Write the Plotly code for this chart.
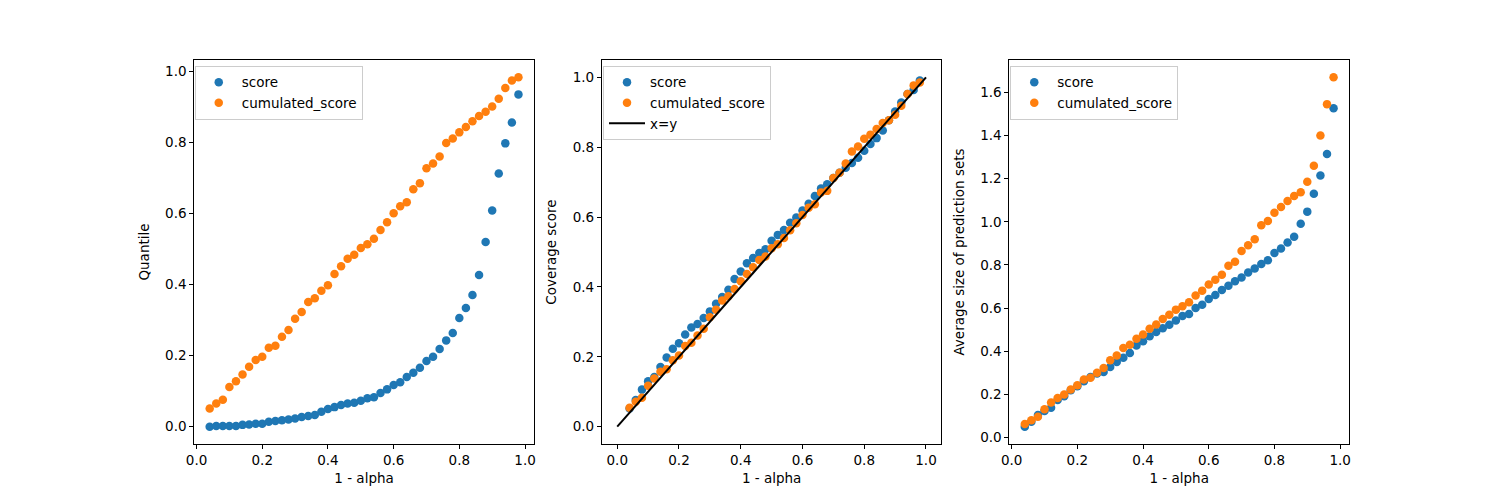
import plotly.graph_objects as go

alpha_levels = [round(0.04 + 0.02 * i, 2) for i in range(48)]

quantile_score = [0.000, 0.002, 0.002, 0.002, 0.002, 0.005, 0.006, 0.008, 0.008, 0.014,
                  0.016, 0.018, 0.020, 0.023, 0.027, 0.030, 0.033, 0.042, 0.050, 0.055,
                  0.061, 0.065, 0.067, 0.073, 0.080, 0.083, 0.095, 0.105, 0.117, 0.125,
                  0.140, 0.152, 0.166, 0.185, 0.197, 0.219, 0.243, 0.264, 0.306, 0.334,
                  0.371, 0.427, 0.520, 0.609, 0.713, 0.798, 0.857, 0.936]
quantile_cumulated = [0.051, 0.065, 0.076, 0.112, 0.128, 0.147, 0.169, 0.188, 0.197, 0.222,
                      0.228, 0.253, 0.272, 0.304, 0.323, 0.351, 0.362, 0.383, 0.398, 0.430,
                      0.452, 0.473, 0.484, 0.503, 0.514, 0.529, 0.554, 0.576, 0.601, 0.621,
                      0.632, 0.669, 0.686, 0.728, 0.741, 0.761, 0.799, 0.812, 0.829, 0.844,
                      0.860, 0.875, 0.887, 0.902, 0.924, 0.954, 0.975, 0.984]

coverage_score = [0.052, 0.076, 0.106, 0.130, 0.142, 0.171, 0.198, 0.223, 0.239, 0.264,
                  0.284, 0.294, 0.311, 0.330, 0.352, 0.371, 0.392, 0.423, 0.444, 0.468,
                  0.483, 0.497, 0.508, 0.532, 0.549, 0.563, 0.584, 0.599, 0.619, 0.638,
                  0.660, 0.682, 0.694, 0.712, 0.727, 0.741, 0.755, 0.770, 0.790, 0.809,
                  0.826, 0.848, 0.877, 0.902, 0.928, 0.952, 0.964, 0.991]
coverage_cumulated = [0.054, 0.071, 0.083, 0.117, 0.138, 0.157, 0.164, 0.190, 0.204, 0.231,
                      0.240, 0.261, 0.280, 0.313, 0.335, 0.361, 0.373, 0.394, 0.416, 0.437,
                      0.456, 0.477, 0.487, 0.511, 0.522, 0.540, 0.562, 0.582, 0.606, 0.627,
                      0.637, 0.670, 0.675, 0.712, 0.727, 0.753, 0.788, 0.802, 0.824, 0.836,
                      0.852, 0.869, 0.877, 0.893, 0.919, 0.952, 0.977, 0.985]

size_score = [0.051, 0.074, 0.105, 0.123, 0.138, 0.174, 0.192, 0.220, 0.238, 0.261,
              0.281, 0.297, 0.304, 0.327, 0.350, 0.370, 0.392, 0.427, 0.446, 0.470,
              0.489, 0.507, 0.523, 0.543, 0.563, 0.573, 0.601, 0.616, 0.642, 0.661,
              0.684, 0.704, 0.724, 0.742, 0.765, 0.784, 0.804, 0.822, 0.855, 0.876,
              0.904, 0.931, 0.991, 1.047, 1.130, 1.214, 1.314, 1.526]
size_cumulated = [0.063, 0.081, 0.097, 0.132, 0.163, 0.184, 0.200, 0.223, 0.243, 0.269,
                  0.277, 0.301, 0.323, 0.358, 0.381, 0.415, 0.430, 0.458, 0.478, 0.504,
                  0.524, 0.550, 0.569, 0.593, 0.609, 0.627, 0.658, 0.681, 0.709, 0.732,
                  0.755, 0.796, 0.815, 0.865, 0.891, 0.919, 0.984, 1.004, 1.042, 1.068,
                  1.096, 1.119, 1.137, 1.185, 1.260, 1.400, 1.545, 1.669]

identity_x = [0.0, 1.0]
identity_y = [0.0, 1.0]

series_names = ["score", "cumulated_score"]
ylabels = ["Quantile", "Coverage score", "Average size of prediction sets"]
xlabel = "1 - alpha"

BLUE = "#1f77b4"
ORANGE = "#ff7f0e"
FONT = "DejaVu Sans"
MS = 8.5

fig = go.Figure()

panels = [
    (quantile_score, quantile_cumulated, "x", "y", "legend"),
    (coverage_score, coverage_cumulated, "x2", "y2", "legend2"),
    (size_score, size_cumulated, "x3", "y3", "legend3"),
]
for s, c, xa, ya, lg in panels:
    fig.add_trace(go.Scatter(x=alpha_levels, y=s, mode="markers", name=series_names[0],
                             marker=dict(color=BLUE, size=MS, line=dict(width=0)),
                             xaxis=xa, yaxis=ya, legend=lg))
    fig.add_trace(go.Scatter(x=alpha_levels, y=c, mode="markers", name=series_names[1],
                             marker=dict(color=ORANGE, size=MS, line=dict(width=0)),
                             xaxis=xa, yaxis=ya, legend=lg))
    if xa == "x2":
        fig.add_trace(go.Scatter(x=identity_x, y=identity_y, mode="lines", name="x=y",
                                 line=dict(color="black", width=2),
                                 xaxis=xa, yaxis=ya, legend=lg))

axis_common = dict(showline=True, linecolor="black", linewidth=1, mirror=True,
                   ticks="outside", ticklen=4, tickwidth=1, tickcolor="black",
                   showgrid=False, zeroline=False, tickformat=".1f",
                   tickfont=dict(family=FONT, size=13.5, color="black"))

xdomains = [[0.125, 0.35295], [0.39853, 0.62647], [0.67205, 0.9]]
xranges = [[-0.007, 1.027], [-0.05, 1.05], [-0.007, 1.027]]
yranges = [[-0.0492, 1.0332], [-0.05, 1.05], [-0.030, 1.75]]
ydtick = 0.2

layout = dict(
    width=1500, height=500,
    margin=dict(l=0, r=0, t=0, b=0),
    paper_bgcolor="white", plot_bgcolor="white",
    font=dict(family=FONT, size=13.5, color="black"),
    showlegend=True,
)
for i in range(3):
    sx = "" if i == 0 else str(i + 1)
    layout["xaxis" + sx] = dict(axis_common, domain=xdomains[i], range=xranges[i],
                                tick0=0, dtick=0.2, anchor="y" + sx,
                                title=dict(text=xlabel, standoff=6,
                                           font=dict(family=FONT, size=13.5)))
    layout["yaxis" + sx] = dict(axis_common, domain=[0.11, 0.88], range=yranges[i],
                                tick0=0, dtick=ydtick, anchor="x" + sx,
                                title=dict(text=ylabels[i], standoff=12,
                                           font=dict(family=FONT, size=13.5)))

legend_common = dict(bgcolor="rgba(255,255,255,0.8)", bordercolor="#cccccc", borderwidth=1,
                     font=dict(family=FONT, size=13.5, color="black"),
                     xanchor="left", yanchor="top", tracegroupgap=0, itemwidth=36)
layout["legend"] = dict(legend_common, x=188 / 1500, y=1 - 66 / 500)
layout["legend2"] = dict(legend_common, x=599 / 1500, y=1 - 66 / 500)
layout["legend3"] = dict(legend_common, x=1009 / 1500, y=1 - 66 / 500)

fig.update_layout(**layout)
fig.write_html("out.html")
